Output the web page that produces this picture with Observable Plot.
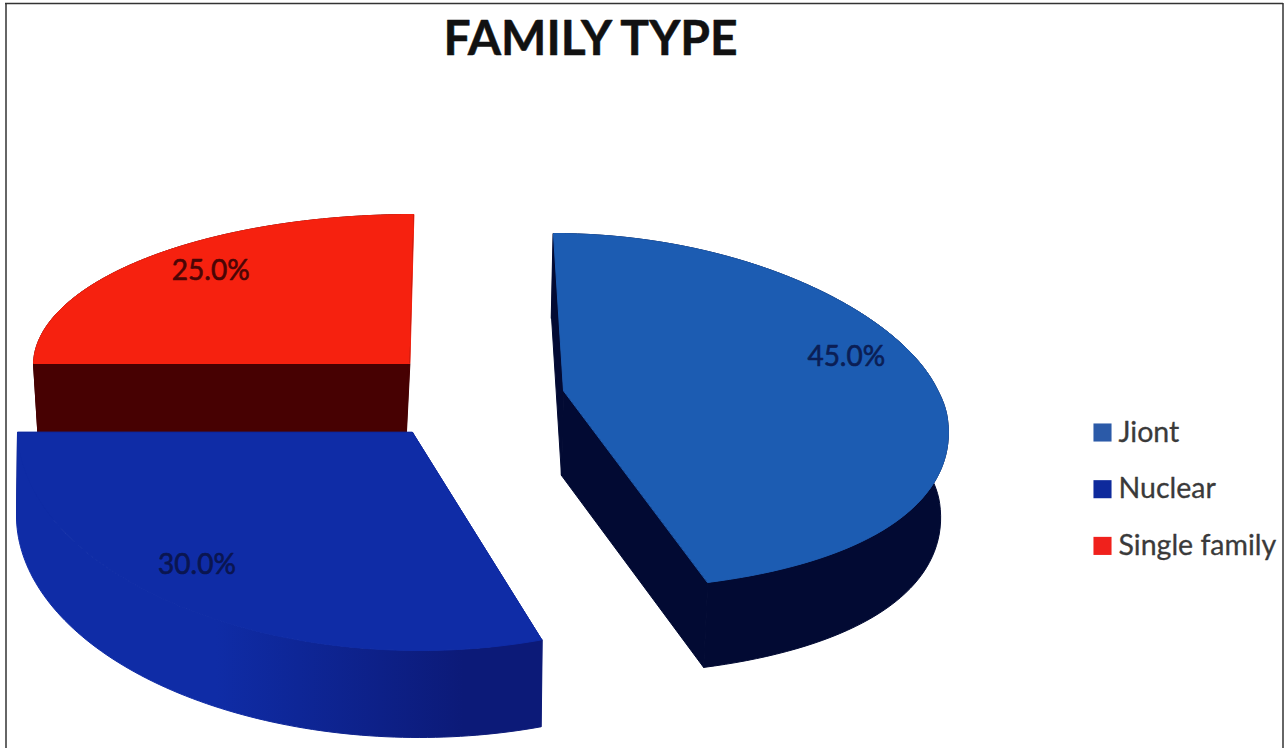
<!DOCTYPE html>
<html>
<head>
<meta charset="utf-8">
<style>
  html, body { margin: 0; padding: 0; background: #fff; }
  svg { display: block; }
</style>
<script src="https://cdn.jsdelivr.net/npm/d3@7"></script>
<script src="https://cdn.jsdelivr.net/npm/@observablehq/plot@0.6"></script>
</head>
<body>
<div id="chart"></div>
<script>
// Family type shares
const categories = ["Jiont", "Nuclear", "Single family"];
const shares = [45, 30, 25];
const topColors = ["#1c5cb2", "#0f2ca6", "#f6210f"];
const wallColors = ["#020a33", "#0c1a78", "#470102"];
const wallLitColors = ["#020a33", "#0f2ca6", "#470102"];
const labelColors = ["#0b1e55", "#0a1550", "#4a0505"];
const legendColors = ["#2b5aa8", "#0e2a9c", "#f0211c"];
const title = "FAMILY TYPE";

// Exploded 3D placement of each slice: apex, ellipse radii on the far and
// near side, perspective shear on each side, sideways droop, wall depth,
// wall taper and lean.
const placement = [
  {cx: 563, cy: 390, rx: 380, far: 157, near: 199, shearFar: 0.064, shearNear: 0.14, droop: 28, depth: 85, taper: 0.985, lean: -2, labelAt: 0.75, nudge: [1, -36]},
  {cx: 412, cy: 432, rx: 395, far: 150, near: 218, shearFar: 0.035, shearNear: 0.035, droop: 0, depth: 87, taper: 1, lean: -1, labelAt: 0.75, nudge: [-46, 0]},
  {cx: 409, cy: 363, rx: 376, far: 149, near: 200, shearFar: -0.027, shearNear: -0.027, droop: 0, depth: 80, taper: 0.976, lean: -4, labelAt: 0.752, nudge: [-1, -13]}
];

const total = d3.sum(shares);
const turns = d3.cumsum(shares).map((c) => c / total * 2 * Math.PI);
const slices = categories.map((name, i) => ({
  name,
  id: "wall-shade-" + i,
  share: shares[i],
  start: i ? turns[i - 1] : 0,
  end: turns[i],
  top: topColors[i],
  wall: wallColors[i],
  wallLit: wallLitColors[i],
  labelColor: labelColors[i],
  ...placement[i]
}));

// Project a point of a slice, given its angle clockwise from twelve o'clock
// and its fraction of the radius, onto the tilted top face or the base below it.
function project(s, angle, r = 1, drop = 0) {
  const u = Math.sin(angle), v = -Math.cos(angle);
  const y = r * ((v < 0 ? s.far : s.near) * v + s.droop * u * u);
  const x = r * s.rx * u + (y < 0 ? s.shearFar : s.shearNear) * y;
  return drop
    ? {x: s.cx + x * s.taper + s.lean, y: s.cy + y + drop}
    : {x: s.cx + x, y: s.cy + y};
}

function rim(s, drop = 0) {
  const n = 90;
  return d3.range(n + 1).map((k) => project(s, s.start + (s.end - s.start) * k / n, 1, drop));
}

const closed = (points, fill) =>
  Plot.line(points, {x: "x", y: "y", fill, stroke: fill, strokeWidth: 1, curve: "linear-closed"});

// Horizontal shade for a curved wall: lit on its left part, darker to the right.
const wallShades = () => {
  const defs = d3.create("svg:defs");
  for (const s of slices) {
    const g = defs.append("linearGradient").attr("id", s.id).attr("x1", 0).attr("x2", 1).attr("y1", 0).attr("y2", 0);
    g.append("stop").attr("offset", 0.38).attr("stop-color", s.wallLit);
    g.append("stop").attr("offset", 0.85).attr("stop-color", s.wall);
  }
  return defs.node();
};

function sliceMarks(s) {
  const apex = project(s, 0, 0);
  const apexLow = project(s, 0, 0, s.depth);
  const edge = rim(s);
  const edgeLow = rim(s, s.depth);
  const last = edge.length - 1;
  return [
    closed([apex, edge[0], edgeLow[0], apexLow], s.wall),
    closed([apex, edge[last], edgeLow[last], apexLow], s.wall),
    closed([...edge, ...edgeLow.slice().reverse()], `url(#${s.id})`),
    closed([apex, ...edge], s.top)
  ];
}

function labelMark(s) {
  const at = project(s, (s.start + s.end) / 2, s.labelAt);
  return Plot.text([at], {
    x: "x", y: "y", text: () => s.share.toFixed(1) + "%",
    dx: s.nudge[0], dy: s.nudge[1],
    fontSize: 28, fontFamily: "Lato", fill: s.labelColor, stroke: s.labelColor, strokeWidth: 0.6
  });
}

// Far slices first so that the nearer ones overlap them.
const drawOrder = [2, 0, 1];

const legend = categories.map((name, i) => ({name, row: 432 + i * 56.7, color: legendColors[i]}));

const plot = Plot.plot({
  width: 1286,
  height: 748,
  margin: 0,
  x: {domain: [0, 1286], range: [0, 1286], axis: null},
  y: {domain: [0, 748], range: [0, 748], axis: null},
  style: {background: "#fff"},
  marks: [
    wallShades,
    Plot.ruleX([5.5], {y1: 3, y2: 748, stroke: "#333", strokeWidth: 1.5}),
    Plot.ruleX([1282.5], {y1: 3, y2: 748, stroke: "#333", strokeWidth: 1.5}),
    Plot.ruleY([3], {x1: 5, x2: 1283, stroke: "#333", strokeWidth: 1.5}),
    ...drawOrder.flatMap((i) => sliceMarks(slices[i])),
    ...drawOrder.map((i) => labelMark(slices[i])),
    Plot.text([title], {
      x: 590, y: 39, text: (d) => d, textAnchor: "middle",
      fontSize: 48, fontWeight: 700, fontFamily: "Lato", fill: "#111", stroke: "#111", strokeWidth: 0.5
    }),
    Plot.dot(legend, {x: 1102, y: "row", symbol: "square", r: 10.2, fill: "color", stroke: "none"}),
    Plot.text(legend, {
      x: 1118, y: "row", text: "name", textAnchor: "start",
      fontSize: 28.5, fontFamily: "Lato", fill: "#3a3a3a", stroke: "#3a3a3a", strokeWidth: 0.3
    })
  ],
  color: {type: "identity"}
});
document.getElementById("chart").appendChild(plot);
</script>
</body>
</html>
